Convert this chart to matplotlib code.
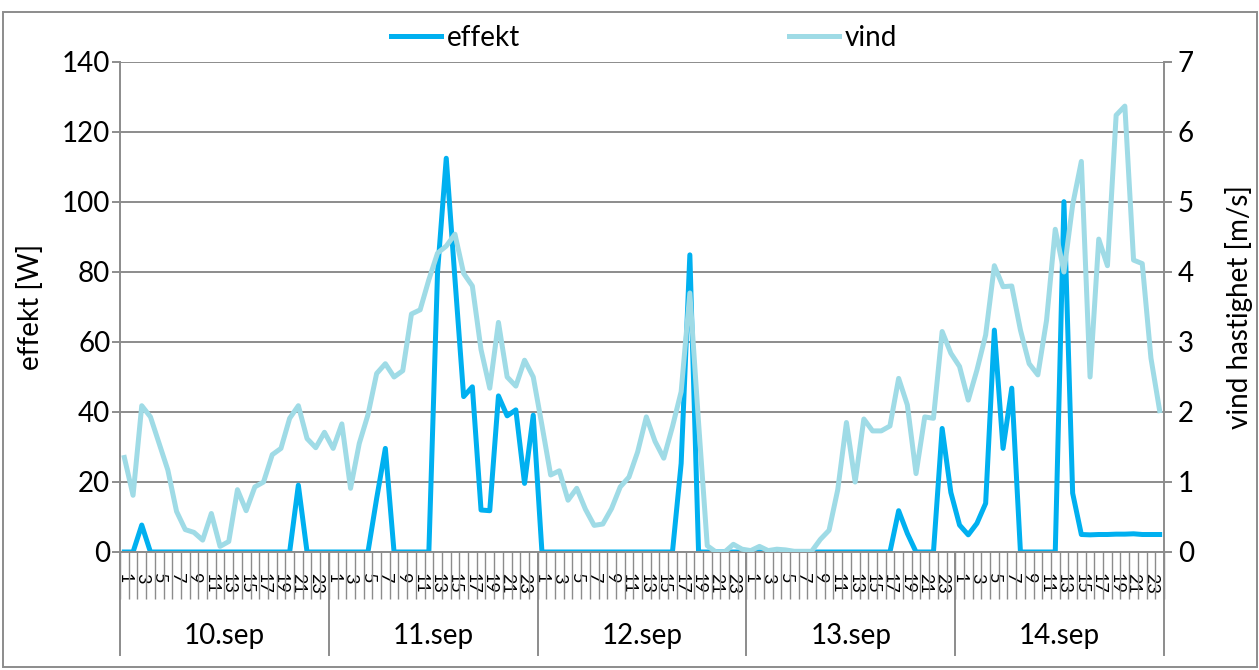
import matplotlib as mpl
mpl.use('Agg')
import matplotlib.pyplot as plt
from matplotlib.patches import Rectangle
import numpy as np

# ================== fonts & colours =================
plt.rcParams['font.family'] = ['Lato', 'DejaVu Sans']
font_size = 20
grid_col = '#8c8c8c'
col_effekt = '#00b0f0'
col_vind = '#9fdbe6'

# ================== data =================
days = ['10.sep', '11.sep', '12.sep', '13.sep', '14.sep']
hours = list(range(1, 25))

effekt_10 = [0, 0, 7.7, 0, 0, 0, 0, 0, 0, 0, 0, 0,
             0, 0, 0, 0, 0, 0, 0, 0, 19.1, 0, 0, 0]
effekt_11 = [0, 0, 0, 0, 0, 15.3, 29.6, 0, 0, 0, 0, 0,
             80, 112.5, 78, 44.4, 47.2, 12.0, 11.8, 44.6, 38.9, 40.6, 19.6, 39.1]
effekt_12 = [0, 0, 0, 0, 0, 0, 0, 0, 0, 0, 0, 0,
             0, 0, 0, 0, 25.3, 84.9, 0, 0, 0, 0, 0, 0]
effekt_13 = [0, 0, 0, 0, 0, 0, 0, 0, 0, 0, 0, 0,
             0, 0, 0, 0, 0, 11.8, 5.3, 0, 0, 0, 35.3, 17.0]
effekt_14 = [7.7, 4.9, 8.2, 13.9, 63.4, 29.6, 46.8, 0, 0, 0, 0, 0,
             100.1, 16.8, 5.0, 4.9, 5.0, 5.0, 5.1, 5.1, 5.2, 5.0, 5.0, 5.0]

vind_10 = [1.35, 0.81, 2.09, 1.93, 1.55, 1.17, 0.58, 0.32, 0.28, 0.17, 0.55, 0.08,
           0.15, 0.89, 0.59, 0.93, 1.00, 1.39, 1.48, 1.91, 2.09, 1.62, 1.49, 1.71]
vind_11 = [1.48, 1.83, 0.91, 1.55, 1.96, 2.55, 2.69, 2.50, 2.59, 3.40, 3.46, 3.89,
           4.27, 4.37, 4.54, 3.98, 3.80, 2.89, 2.34, 3.28, 2.50, 2.37, 2.74, 2.50]
vind_12 = [1.81, 1.10, 1.16, 0.74, 0.91, 0.61, 0.38, 0.40, 0.62, 0.93, 1.07, 1.43,
           1.93, 1.58, 1.34, 1.79, 2.29, 3.70, 1.85, 0.09, 0.0, 0.0, 0.11, 0.04]
vind_13 = [0.02, 0.08, 0.02, 0.04, 0.03, 0.01, 0.01, 0.01, 0.18, 0.31, 0.89, 1.85,
           1.00, 1.90, 1.73, 1.73, 1.80, 2.48, 2.10, 1.12, 1.93, 1.91, 3.15, 2.84]
vind_14 = [2.65, 2.17, 2.60, 3.10, 4.09, 3.79, 3.80, 3.17, 2.69, 2.53, 3.31, 4.61,
           4.00, 4.96, 5.58, 2.50, 4.47, 4.09, 6.24, 6.37, 4.17, 4.12, 2.77, 2.02]

effekt = effekt_10 + effekt_11 + effekt_12 + effekt_13 + effekt_14
vind = vind_10 + vind_11 + vind_12 + vind_13 + vind_14
n = len(effekt)
x = np.arange(n)

# ================== figure =================
fig = plt.figure(figsize=(12.59, 6.70), dpi=100)
ax = fig.add_axes([120 / 1259, 1 - 552 / 670, 1044 / 1259, 490 / 670])
ax2 = ax.twinx()

l1, = ax.plot(x, effekt, color=col_effekt, lw=3.6, solid_joinstyle='round', label='effekt')
l2, = ax2.plot(x, vind, color=col_vind, lw=3.6, solid_joinstyle='round', label='vind')

ax.set_xlim(-0.5, n - 0.5)
ax.set_ylim(0, 140)
ax2.set_ylim(0, 7)
ax.set_yticks(range(0, 141, 20))
ax2.set_yticks(range(0, 8))
ax.grid(axis='y', color=grid_col, lw=1.4)
ax.set_axisbelow(True)

for a in (ax, ax2):
    a.spines['top'].set_visible(False)
    for s in a.spines.values():
        s.set_color(grid_col)
        s.set_linewidth(1.4)
ax2.spines['left'].set_visible(False)
ax2.spines['bottom'].set_visible(False)
ax.spines['right'].set_visible(False)

ax.tick_params(axis='y', length=6, width=1.4, color=grid_col, labelsize=font_size, pad=1)
ax2.tick_params(axis='y', length=6, width=1.4, color=grid_col, labelsize=font_size, pad=4)

# hour labels (every second hour shown), rotated like the original
pos = [d * 24 + h - 1 for d in range(len(days)) for h in hours if h % 2 == 1]
lab = [str(h) for d in range(len(days)) for h in hours if h % 2 == 1]
ax.set_xticks(pos)
ax.set_xticklabels(lab, rotation=-90, va='top', ha='center', fontsize=13)
ax.tick_params(axis='x', which='major', length=0, pad=15)
ax.set_xticks(np.arange(-0.5, n, 1), minor=True)
ax.tick_params(axis='x', which='minor', length=34, width=1, color=grid_col, direction='out')

# day grouping
trans = ax.get_xaxis_transform()
for d in range(len(days) + 1):
    ax.plot([d * 24 - 0.5] * 2, [0, -0.21], transform=trans, color=grid_col,
            lw=1.4, clip_on=False)
for d, day in enumerate(days):
    ax.text(d * 24 + 11.5, -0.171, day, transform=trans, ha='center', va='center',
            fontsize=font_size)

ax.set_ylabel('effekt [W]', fontsize=font_size)
ax.yaxis.set_label_coords(-0.073, 0.5)
ax2.set_ylabel('vind hastighet [m/s]', fontsize=font_size)
ax2.yaxis.set_label_coords(1.058, 0.5)

fig.legend([l1, l2], ['effekt', 'vind'], loc='center', bbox_to_anchor=(0.5115, 0.944),
           ncol=2, frameon=False, handlelength=1.8, handletextpad=0.2,
           columnspacing=9.7, fontsize=font_size)

# outer chart border
fig.patches.append(Rectangle((0.0024, 0.004), 0.996, 0.978, transform=fig.transFigure,
                             fill=False, ec=grid_col, lw=1.4))

fig.savefig('out.png', dpi=100)
